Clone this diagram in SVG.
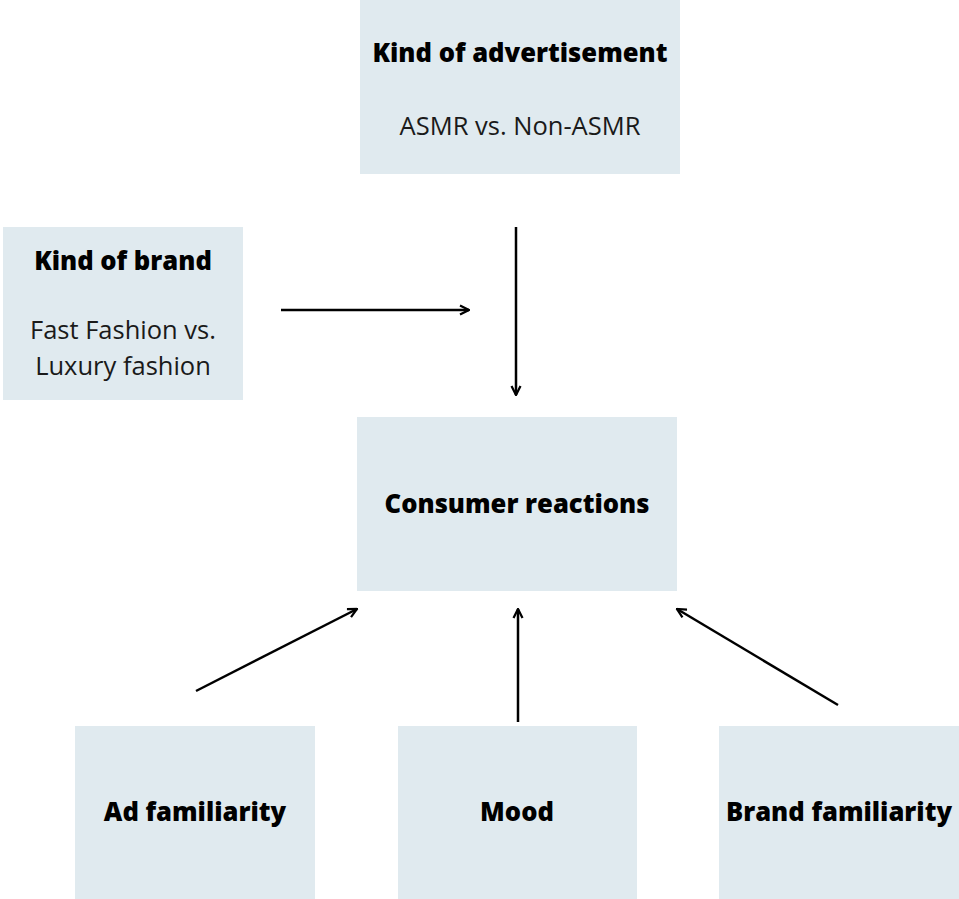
<svg xmlns="http://www.w3.org/2000/svg" width="959" height="899" viewBox="0 0 959 899">
<style>
.box{fill:#e0eaef}
.t{font-family:"Open Sans","Liberation Sans",sans-serif;font-size:25.5px;fill:#000;text-anchor:middle}
.b{font-weight:800;font-size:25.6px}
.r{fill:#1a1a1a}
.c{stroke:#000;stroke-width:2.5;fill:none;marker-end:url(#ah)}
</style>
<defs>
<marker id="ah" viewBox="0 0 10 10" refX="9" refY="5" markerWidth="4.5" markerHeight="4.5" orient="auto" markerUnits="strokeWidth">
<path d="M1,1 L9,5 L1,9" fill="none" stroke="#000" stroke-width="2"/>
</marker>
</defs>
<rect width="959" height="899" fill="#fff"/>
<g id="kind-of-advertisement">
<rect class="box" x="360" y="0" width="320" height="174"/>
<text class="t b" x="520" y="62">Kind of advertisement</text>
<text class="t r" x="520" y="135">ASMR vs. Non-ASMR</text>
</g>
<g id="kind-of-brand">
<rect class="box" x="3" y="227" width="240" height="173"/>
<text class="t b" x="123" y="270">Kind of brand</text>
<text class="t r" x="123" y="339">Fast Fashion vs.</text>
<text class="t r" x="123" y="375">Luxury fashion</text>
</g>
<g id="consumer-reactions">
<rect class="box" x="357" y="417" width="320" height="174"/>
<text class="t b" x="517" y="513">Consumer reactions</text>
</g>
<g id="ad-familiarity">
<rect class="box" x="75" y="726" width="240" height="173"/>
<text class="t b" x="195" y="821">Ad familiarity</text>
</g>
<g id="mood">
<rect class="box" x="398" y="726" width="239" height="173"/>
<text class="t b" x="517" y="821">Mood</text>
</g>
<g id="brand-familiarity">
<rect class="box" x="719" y="726" width="240" height="173"/>
<text class="t b" x="839" y="821">Brand familiarity</text>
</g>
<g id="connectors">
<line class="c" x1="281" y1="310" x2="469" y2="310"/>
<line class="c" x1="516" y1="227" x2="516" y2="395"/>
<line class="c" x1="196" y1="691" x2="357" y2="609"/>
<line class="c" x1="518" y1="722" x2="518" y2="609"/>
<line class="c" x1="838" y1="705" x2="677" y2="609"/>
</g>
</svg>
